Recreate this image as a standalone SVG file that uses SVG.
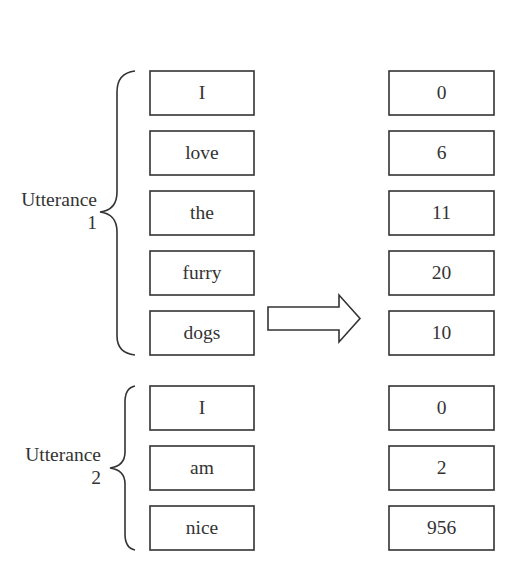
<svg xmlns="http://www.w3.org/2000/svg" width="506" height="580" viewBox="0 0 506 580">
<style>
.box{fill:#fff;stroke:#333;stroke-width:1.6}
.t{font-family:"Liberation Serif",serif;font-size:19.5px;fill:#333;text-anchor:middle}
.l{font-family:"Liberation Serif",serif;font-size:19.5px;fill:#333;text-anchor:end}
.br{fill:none;stroke:#333;stroke-width:1.6}
</style>
<rect width="506" height="580" fill="#fff"/>
<g id="w1"><rect class="box" x="150" y="71" width="104" height="44"/><text class="t" x="202" y="99">I</text></g>
<g id="w2"><rect class="box" x="150" y="131" width="104" height="44"/><text class="t" x="202" y="159">love</text></g>
<g id="w3"><rect class="box" x="150" y="191" width="104" height="44"/><text class="t" x="202" y="219">the</text></g>
<g id="w4"><rect class="box" x="150" y="251" width="104" height="44"/><text class="t" x="202" y="279">furry</text></g>
<g id="w5"><rect class="box" x="150" y="311" width="104" height="44"/><text class="t" x="202" y="339">dogs</text></g>
<g id="w6"><rect class="box" x="150" y="386" width="104" height="44"/><text class="t" x="202" y="414">I</text></g>
<g id="w7"><rect class="box" x="150" y="446" width="104" height="44"/><text class="t" x="202" y="474">am</text></g>
<g id="w8"><rect class="box" x="150" y="506" width="104" height="44"/><text class="t" x="202" y="534">nice</text></g>
<g id="n1"><rect class="box" x="389" y="71" width="105" height="44"/><text class="t" x="441.5" y="99">0</text></g>
<g id="n2"><rect class="box" x="389" y="131" width="105" height="44"/><text class="t" x="441.5" y="159">6</text></g>
<g id="n3"><rect class="box" x="389" y="191" width="105" height="44"/><text class="t" x="441.5" y="219">11</text></g>
<g id="n4"><rect class="box" x="389" y="251" width="105" height="44"/><text class="t" x="441.5" y="279">20</text></g>
<g id="n5"><rect class="box" x="389" y="311" width="105" height="44"/><text class="t" x="441.5" y="339">10</text></g>
<g id="n6"><rect class="box" x="389" y="386" width="105" height="44"/><text class="t" x="441.5" y="414">0</text></g>
<g id="n7"><rect class="box" x="389" y="446" width="105" height="44"/><text class="t" x="441.5" y="474">2</text></g>
<g id="n8"><rect class="box" x="389" y="506" width="105" height="44"/><text class="t" x="441.5" y="534">956</text></g>
<g id="u1"><path class="br" d="M135,71 Q117,73 117,92 L117,192 Q117,210 100,212 Q117,214 117,232 L117,336 Q117,353 135,355"/><text class="l" x="97" y="206">Utterance</text><text class="l" x="97" y="229">1</text></g>
<g id="u2"><path class="br" d="M135,386 Q125,388 125,402 L125,452 Q125,466 110,468 Q125,470 125,484 L125,534 Q125,548 135,550"/><text class="l" x="101" y="461">Utterance</text><text class="l" x="101" y="484">2</text></g>
<g id="connectors"><path class="br" d="M268,307 L339,307 L339,295 L360,318.5 L339,342 L339,330 L268,330 Z"/></g>
</svg>
